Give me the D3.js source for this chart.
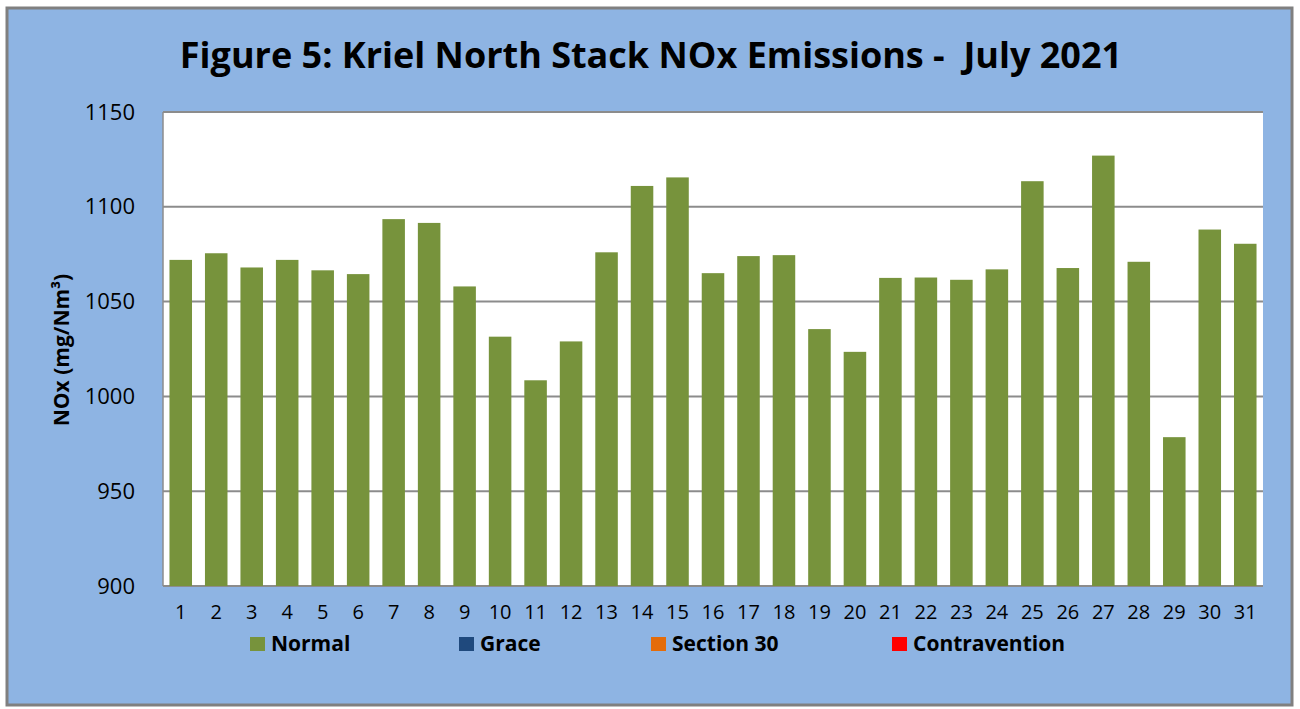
<!DOCTYPE html>
<html>
<head>
<meta charset="utf-8">
<script src="https://cdnjs.cloudflare.com/ajax/libs/d3/7.8.5/d3.min.js"></script>
<style>
  body { margin: 0; background: #fff; }
  svg { display: block; font-family: "Open Sans", sans-serif; }
</style>
</head>
<body>
<svg id="chart" width="1300" height="709"></svg>
<script>
const days = d3.range(1, 32).map(String);
const noxValues = [1072, 1075.5, 1068, 1072, 1066.5, 1064.5, 1093.5, 1091.5, 1058, 1031.5,
  1008.5, 1029, 1076, 1111, 1115.5, 1065, 1074, 1074.5, 1035.5, 1023.5,
  1062.5, 1062.7, 1061.5, 1067, 1113.5, 1067.7, 1127, 1071, 978.5, 1088, 1080.5];
const yTicks = [900, 950, 1000, 1050, 1100, 1150];
const legendItems = ["Normal", "Grace", "Section 30", "Contravention"];
const legendColors = ["#77933C", "#1F497D", "#E46C0A", "#FF0000"];

const svg = d3.select("#chart");

// outer frame
svg.append("rect").attr("x", 7).attr("y", 8).attr("width", 1285).attr("height", 697)
  .attr("fill", "#8EB4E3").attr("stroke", "#808080").attr("stroke-width", 3);

svg.append("text").attr("x", 651).attr("y", 68).attr("text-anchor", "middle")
  .attr("font-size", 36).attr("font-weight", "bold").attr("fill", "#000")
  .style("white-space", "pre")
  .text("Figure 5: Kriel North Stack NOx Emissions -  July 2021");

const plot = { left: 163, top: 112, right: 1263, bottom: 586 };

const x = d3.scaleBand().domain(days).range([plot.left, plot.right])
  .paddingInner(0.365).paddingOuter(0.1825);
const y = d3.scaleLinear().domain([900, 1150]).range([plot.bottom, plot.top]);

svg.append("rect").attr("x", plot.left).attr("y", plot.top)
  .attr("width", plot.right - plot.left).attr("height", plot.bottom - plot.top)
  .attr("fill", "#fff");

// gridlines
svg.append("g").selectAll("line").data(yTicks).join("line")
  .attr("x1", plot.left).attr("x2", plot.right)
  .attr("y1", d => y(d)).attr("y2", d => y(d))
  .attr("stroke", "#8c8c8c").attr("stroke-width", 2);

svg.append("line").attr("x1", plot.left).attr("x2", plot.left)
  .attr("y1", plot.top).attr("y2", plot.bottom).attr("stroke", "#8c8c8c").attr("stroke-width", 1.5);

// bars
svg.append("g").selectAll("rect").data(noxValues).join("rect")
  .attr("x", (d, i) => x(days[i]))
  .attr("width", x.bandwidth())
  .attr("y", d => y(d))
  .attr("height", d => y(900) - y(d))
  .attr("fill", "#77933C");

// y axis labels
const yAxis = svg.append("g").attr("transform", `translate(${plot.left},0)`)
  .call(d3.axisLeft(y).tickValues(yTicks).tickFormat(d3.format("d")).tickSize(0).tickPadding(28));
yAxis.select(".domain").remove();
yAxis.selectAll("text").attr("font-size", 22).attr("fill", "#000")
  .attr("font-family", "'Open Sans', sans-serif");

// x axis labels
const xAxis = svg.append("g").attr("transform", `translate(0,${plot.bottom})`)
  .call(d3.axisBottom(x).tickSize(0).tickPadding(19));
xAxis.select(".domain").remove();
xAxis.selectAll("text").attr("font-size", 20).attr("fill", "#000")
  .attr("font-family", "'Open Sans', sans-serif");

svg.append("text").attr("transform", "translate(69,350) rotate(-90)")
  .attr("text-anchor", "middle").attr("font-size", 21).attr("font-weight", "bold")
  .text("NOx (mg/Nm³)");

// legend
const legendX = [250, 459, 651, 892];
const legend = svg.append("g").selectAll("g").data(legendItems).join("g")
  .attr("transform", (d, i) => `translate(${legendX[i]},644)`);
legend.append("rect").attr("x", 0).attr("y", -7).attr("width", 15).attr("height", 14)
  .attr("fill", (d, i) => legendColors[i]);
legend.append("text").attr("x", 21).attr("y", 7).attr("font-size", 21).attr("font-weight", "bold")
  .text(d => d);
</script>
</body>
</html>
